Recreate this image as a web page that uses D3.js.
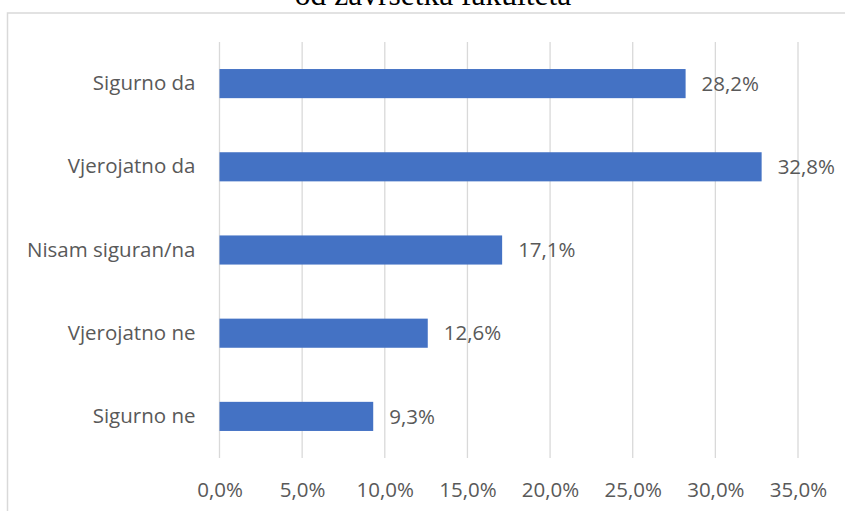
<!DOCTYPE html>
<html>
<head>
<meta charset="utf-8">
<script src="https://cdn.jsdelivr.net/npm/d3@7"></script>
<style>
  body { margin: 0; background: #fff; }
  svg { display: block; }
</style>
</head>
<body>
<svg id="chart" width="845" height="511"></svg>
<script>
const categories = ['Sigurno da', 'Vjerojatno da', 'Nisam siguran/na', 'Vjerojatno ne', 'Sigurno ne'];
const values = [28.2, 32.8, 17.1, 12.6, 9.3];
const xTicks = [0, 5, 10, 15, 20, 25, 30, 35];
const titleText = 'od završetka fakulteta';

const width = 845;
const height = 511;
const plot = { left: 219.5, right: 798, top: 42, bottom: 458 };

const svg = d3.select('#chart');

// chart frame, it goes on past the right and bottom edge of the page
svg.append('rect')
  .attr('x', 7.5)
  .attr('y', 13)
  .attr('width', 1000)
  .attr('height', 1000)
  .attr('fill', 'none')
  .attr('stroke', '#d9d9d9')
  .attr('stroke-width', 1.5);

// title, only its lower line is visible
svg.append('text')
  .attr('x', 433)
  .attr('y', 5)
  .attr('text-anchor', 'middle')
  .attr('font-family', '"Liberation Serif", "Times New Roman", serif')
  .attr('font-size', 31.5)
  .attr('fill', '#000')
  .text(titleText);

let x = d3.scaleLinear()
  .domain([0, 35])
  .range([plot.left, plot.right]);

let y = d3.scaleBand()
  .domain(categories)
  .range([plot.top, plot.bottom])
  .paddingInner(0.65)
  .paddingOuter(0.325);

const fmt = v => d3.format('.1f')(v).replace('.', ',') + '%';

// vertical gridlines
svg.append('g')
  .selectAll('line')
  .data(xTicks)
  .enter()
  .append('line')
  .attr('x1', d => x(d))
  .attr('x2', d => x(d))
  .attr('y1', plot.top)
  .attr('y2', plot.bottom)
  .attr('stroke', '#d9d9d9')
  .attr('stroke-width', 1.3);

// x axis labels
let xAxis = d3.axisBottom(x)
  .tickValues(xTicks)
  .tickSize(0)
  .tickPadding(0)
  .tickFormat(fmt);

let xg = svg.append('g')
  .attr('transform', 'translate(0,' + 481 + ')')
  .call(xAxis);
xg.select('.domain').remove();
xg.selectAll('text')
  .attr('font-family', '"Open Sans", sans-serif')
  .attr('font-size', 20.5)
  .attr('fill', '#595959')
  .attr('dy', '0.78em');

// category labels
let yAxis = d3.axisLeft(y)
  .tickSize(0)
  .tickPadding(24);

let yg = svg.append('g')
  .attr('transform', 'translate(' + plot.left + ',0)')
  .call(yAxis);
yg.select('.domain').remove();
yg.selectAll('text')
  .attr('font-family', '"Open Sans", sans-serif')
  .attr('font-size', 20.5)
  .attr('fill', '#595959');

// bars
svg.append('g')
  .selectAll('rect')
  .data(values)
  .enter()
  .append('rect')
  .attr('x', x(0))
  .attr('y', (d, i) => y(categories[i]))
  .attr('width', d => x(d) - x(0))
  .attr('height', y.bandwidth())
  .attr('fill', '#4472c4');

// value labels
svg.append('g')
  .selectAll('text')
  .data(values)
  .enter()
  .append('text')
  .attr('x', d => x(d) + 16)
  .attr('y', (d, i) => y(categories[i]) + y.bandwidth() / 2)
  .attr('dy', '0.35em')
  .attr('font-family', '"Open Sans", sans-serif')
  .attr('font-size', 20.5)
  .attr('fill', '#595959')
  .text(d => fmt(d));
</script>
</body>
</html>
